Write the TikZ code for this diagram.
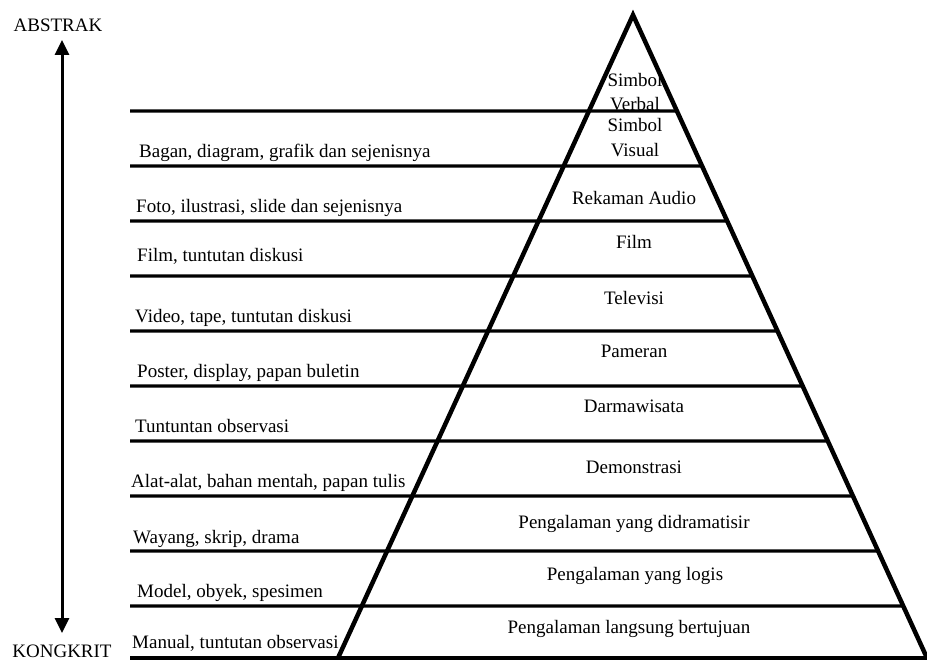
\documentclass[tikz,border=0pt]{standalone}
\usepackage{fontspec}
\setmainfont{Liberation Serif}
\usetikzlibrary{arrows.meta,calc}
\begin{document}
\begin{tikzpicture}[x=1pt,y=-1pt,
  lbl/.style={anchor=base west,inner sep=0pt,font=\fontsize{19}{22}\selectfont},
  rlbl/.style={anchor=base,inner sep=0pt,font=\fontsize{19}{22}\selectfont},
  pyr/.style={line width=4.5pt,line join=miter},
  level/.style={line width=3.2pt},
  axis/.style={line width=3pt,{Triangle[width=14pt,length=15pt]}-{Triangle[width=14pt,length=15pt]}}]
\useasboundingbox (0,0) rectangle (927,660);
\coordinate (apex) at (633,15);
\coordinate (bl) at (338,658);
\coordinate (br) at (927,658);
\foreach \y in {111,166,221,276,331,386,441,496,551,606} {
  \draw[level] (130,\y) -- ($(apex)!{(\y-15)/643}!(br)$);
}
\draw[level] (130,658) -- (927,658);
\draw[pyr] (bl) -- (apex) -- (br);
% axis
\node[rlbl] (abs) at (58,32) {ABSTRAK};
\node[rlbl] (kon) at (62,657) {KONGKRIT};
\coordinate (atop) at (62,40);
\coordinate (abot) at (62,633);
\draw[axis] (abot) -- (atop);
% left labels
\node[lbl] (l1) at (139,158) {Bagan, diagram, grafik dan sejenisnya};
\node[lbl] (l2) at (136,213) {Foto, ilustrasi, slide dan sejenisnya};
\node[lbl] (l3) at (137,262) {Film, tuntutan diskusi};
\node[lbl] (l4) at (135,323) {Video, tape, tuntutan diskusi};
\node[lbl] (l5) at (137,378) {Poster, display, papan buletin};
\node[lbl] (l6) at (135,432) {Tuntuntan observasi};
\node[lbl] (l7) at (131,487) {Alat-alat, bahan mentah, papan tulis};
\node[lbl] (l8) at (133,543) {Wayang, skrip, drama};
\node[lbl] (l9) at (137,597) {Model, obyek, spesimen};
\node[lbl] (l10) at (132,648) {Manual, tuntutan observasi};
% pyramid labels
\node[rlbl] (r1a) at (635,87) {Simbol};
\node[rlbl] (r1b) at (635,111) {Verbal};
\node[rlbl] (r2a) at (635,132) {Simbol};
\node[rlbl] (r2b) at (635,157) {Visual};
\node[rlbl] (r3) at (634,205) {Rekaman Audio};
\node[rlbl] (r4) at (634,249) {Film};
\node[rlbl] (r5) at (634,305) {Televisi};
\node[rlbl] (r6) at (634,358) {Pameran};
\node[rlbl] (r7) at (634,413) {Darmawisata};
\node[rlbl] (r8) at (634,473) {Demonstrasi};
\node[rlbl] (r9) at (634,528) {Pengalaman yang didramatisir};
\node[rlbl] (r10) at (635,580) {Pengalaman yang logis};
\node[rlbl] (r11) at (629,633) {Pengalaman langsung bertujuan};
\end{tikzpicture}
\end{document}
